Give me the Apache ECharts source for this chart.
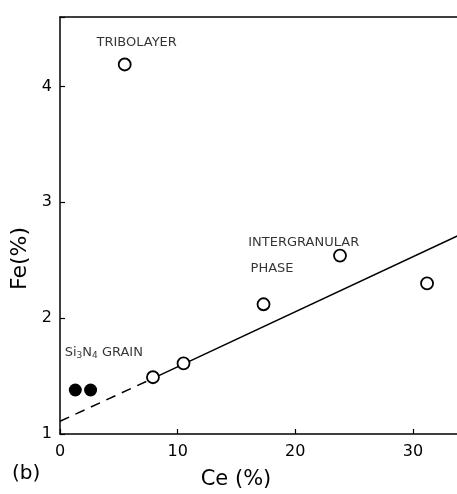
<!DOCTYPE html>
<html>
<head>
<meta charset="utf-8">
<script src="https://cdn.jsdelivr.net/npm/echarts@6/dist/echarts.min.js"></script>
<style>
  html, body { margin: 0; padding: 0; background: #fff; }
  #chart { width: 457px; height: 494px; }
</style>
</head>
<body>
<div id="chart"></div>
<script>
// open circles: tribolayer + intergranular phase
const openCe = [5.5, 7.9, 10.5, 17.3, 23.8, 31.2]
const openFe = [4.19, 1.49, 1.61, 2.12, 2.54, 2.30]
// filled circles: Si3N4 grain
const grainCe = [1.3, 2.6]
const grainFe = [1.38, 1.38]
// fitted line: dashed part then solid part
const dashCe = [0, 7.9]
const dashFe = [1.11, 1.48]
const solidCe = [7.9, 34]
const solidFe = [1.48, 2.72]
// annotation texts, placed in data coordinates
const noteCe = [3.1, 16.0, 16.2, 0.4]
const noteFe = [4.38, 2.65, 2.43, 1.70]
const noteText = ['TRIBOLAYER', 'INTERGRANULAR', 'PHASE', 'Si{s|3}N{s|4} GRAIN']
const xTicks = [0, 10, 20, 30]
const yTicks = [1, 2, 3, 4]

const zip = (a, b) => a.map((v, i) => [v, b[i]])
const font = 'DejaVu Sans'

const chart = echarts.init(document.getElementById('chart'))
chart.setOption({
  animation: false,
  grid: { left: 60, top: 17, width: 400, height: 417, outerBoundsMode: 'none', containLabel: false },
  xAxis: [
    {
      type: 'value',
      min: 0,
      max: 34,
      interval: 10,
      name: 'Ce (%)',
      nameLocation: 'middle',
      nameGap: 35,
      nameTextStyle: { color: '#000', fontSize: 21, fontFamily: font, padding: [0, 48, 0, 0] },
      axisLine: { lineStyle: { color: '#000', width: 1.5 } },
      axisTick: { inside: true, length: 5, lineStyle: { color: '#000', width: 1.2 } },
      axisLabel: {
        color: '#000', fontSize: 16, fontFamily: font, margin: 10,
        formatter: v => (xTicks.includes(v) ? String(v) : '')
      },
      splitLine: { show: false }
    },
    {
      type: 'value',
      position: 'top',
      min: 0,
      max: 34,
      axisLine: { show: true, lineStyle: { color: '#000', width: 1.5 } },
      axisTick: { show: false },
      axisLabel: { show: false },
      splitLine: { show: false }
    }
  ],
  yAxis: {
    type: 'value',
    min: 1,
    max: 4.6,
    interval: 1,
    name: 'Fe(%)',
    nameLocation: 'middle',
    nameGap: 26,
    nameRotate: 90,
    nameTextStyle: { color: '#000', fontSize: 22, fontFamily: font, padding: [0, 66, 0, 0] },
    axisLine: { show: true, lineStyle: { color: '#000', width: 1.5 } },
    axisTick: { show: true, inside: true, length: 5, lineStyle: { color: '#000', width: 1.2 } },
    axisLabel: {
      color: '#000', fontSize: 16, fontFamily: font, margin: 8,
      formatter: v => (yTicks.includes(v) ? String(v) : '')
    },
    splitLine: { show: false }
  },
  graphic: [
    {
      type: 'text',
      left: 12,
      top: 464,
      style: { text: '(b)', font: '20px DejaVu Sans', fill: '#000' }
    }
  ],
  series: [
    {
      type: 'line',
      data: zip(dashCe, dashFe),
      symbol: 'none',
      lineStyle: { color: '#000', width: 1.5, type: [10, 7] },
      z: 2
    },
    {
      type: 'line',
      data: zip(solidCe, solidFe),
      symbol: 'none',
      lineStyle: { color: '#000', width: 1.5 },
      z: 2
    },
    {
      type: 'scatter',
      data: zip(openCe, openFe),
      symbol: 'circle',
      symbolSize: 12,
      itemStyle: { color: '#fff', borderColor: '#000', borderWidth: 1.8, opacity: 1 },
      z: 3
    },
    {
      type: 'scatter',
      data: zip(grainCe, grainFe),
      symbol: 'circle',
      symbolSize: 13,
      itemStyle: { color: '#000', opacity: 1 },
      z: 3
    },
    {
      type: 'scatter',
      data: noteCe.map((c, i) => ({ value: [c, noteFe[i]], label: { formatter: noteText[i] } })),
      symbolSize: 0,
      silent: true,
      label: {
        show: true,
        position: 'right',
        distance: 0,
        color: '#000',
        fontSize: 13,
        fontFamily: font,
        rich: {
          s: { fontSize: 9, fontFamily: font, color: '#000', verticalAlign: 'bottom', padding: [6, 0, 0, 0] }
        }
      },
      z: 4
    }
  ]
})
</script>
</body>
</html>
